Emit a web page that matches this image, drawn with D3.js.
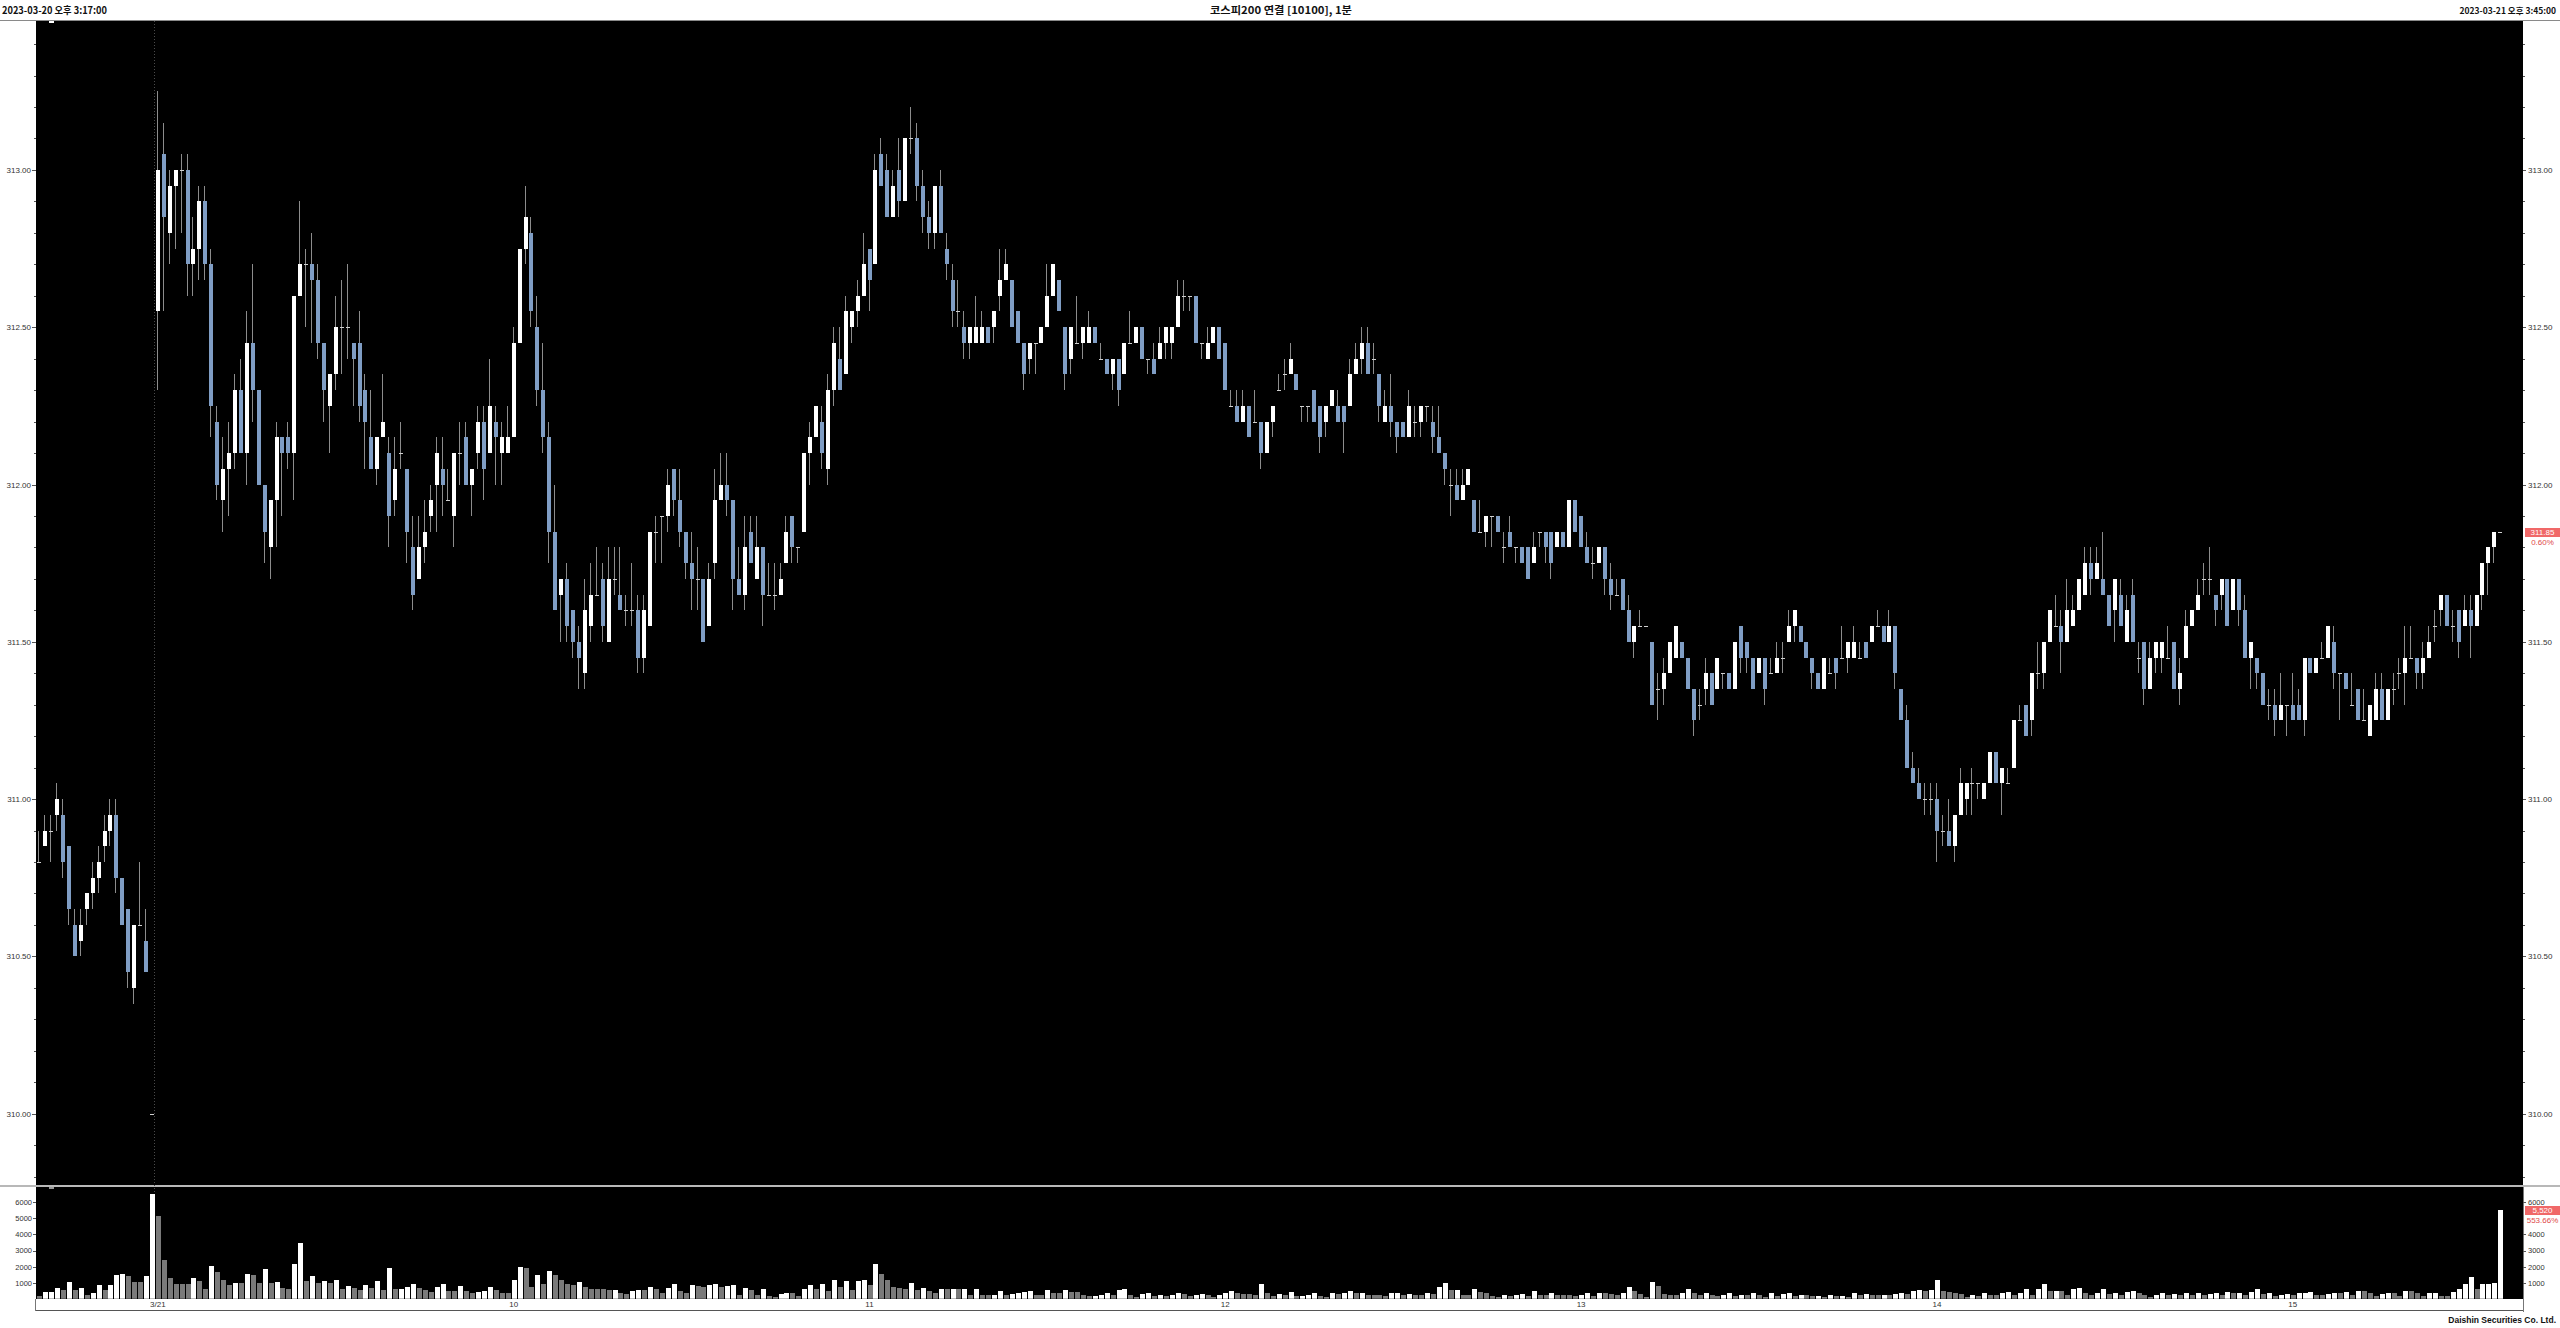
<!DOCTYPE html>
<html><head><meta charset="utf-8">
<script src="https://cdn.jsdelivr.net/npm/d3@7"></script>
<style>body{margin:0;background:#fff}svg{display:block}</style>
</head><body>
<svg id="c" width="2560" height="1328"></svg>
<script>
// ---------- categories (1-minute bars) ----------
const sessionDates = ["03-20", "03-21"];
const sessionStarts = ["15:17", "09:00"];
const sessionEnds = ["15:35", "15:34"];
const closingAuctionTime = "15:45";

const timeTickKeys = ["03-21 09:00","03-21 10:00","03-21 11:00","03-21 12:00","03-21 13:00","03-21 14:00","03-21 15:00"];
const timeTickLabels = ["3/21","10","11","12","13","14","15"];
const priceMajorTicks = [310, 310.5, 311, 311.5, 312, 312.5, 313];
const volumeTicks = [1000, 2000, 3000, 4000, 5000, 6000];

const headerLeft = "2023-03-20 오후 3:17:00";
const headerTitle = "코스피200 연결 [10100], 1분";
const headerRight = "2023-03-21 오후 3:45:00";
const footerText = "Daishin Securities Co. Ltd.";

// ---------- 2023-03-20 bars ----------
const day1Open  = [310.8,310.85,310.9,310.95,310.95,310.85,310.6,310.55,310.65,310.7,310.75,310.85,310.9,310.95,310.75,310.65,310.4,310.6,310.55,310];
const day1High  = [310.9,310.95,310.95,311.05,311,310.85,310.65,310.65,310.7,310.8,310.85,310.95,311,311,310.75,310.65,310.6,310.8,310.65,310];
const day1Low   = [310.8,310.85,310.8,310.9,310.75,310.6,310.5,310.5,310.6,310.65,310.7,310.8,310.85,310.7,310.6,310.4,310.35,310.6,310.45,310];
const day1Close = [310.8,310.9,310.9,311,310.8,310.65,310.5,310.6,310.7,310.75,310.8,310.9,310.95,310.75,310.6,310.45,310.6,310.6,310.45,310];
const day1Volume = [150,415,450,660,520,1040,540,660,250,390,830,540,830,1450,1540,1390,1040,1040,1410,6540];

// ---------- 2023-03-21 bars ----------
const day2Open = [
312.55,313.05,312.80,312.95,313.00,313.00,312.70,312.75,312.90,312.70,
312.20,311.95,312.05,312.10,312.30,312.10,312.45,312.30,312.00,311.80,
311.95,312.15,312.15,312.10,312.60,312.70,312.70,312.65,312.45,312.25,
312.35,312.50,312.50,312.45,312.45,312.30,312.15,312.05,312.15,312.10,
311.95,312.10,312.05,311.80,311.70,311.80,311.90,312.00,312.05,311.95,
311.90,312.10,312.15,312.00,312.10,312.20,312.10,312.20,312.10,312.10,
312.15,312.45,312.75,312.80,312.50,312.30,312.15,311.85,311.65,311.70,
311.60,311.50,311.40,311.55,311.65,311.70,311.50,311.70,311.65,311.60,
311.60,311.60,311.45,311.55,311.85,311.90,311.90,312.05,311.95,311.85,
311.75,311.70,311.70,311.55,311.75,311.95,312.00,311.95,311.70,311.65,
311.85,311.70,311.80,311.65,311.65,311.65,311.75,311.90,311.80,311.85,
312.10,312.15,312.20,312.05,312.30,312.40,312.35,312.50,312.55,312.60,
312.75,312.70,313.05,313.00,312.85,313.00,312.90,313.10,313.10,312.95,
312.85,312.80,312.95,312.75,312.65,312.55,312.50,312.45,312.45,312.45,
312.50,312.50,312.60,312.65,312.65,312.55,312.45,312.40,312.45,312.45,
312.50,312.60,312.65,312.50,312.40,312.45,312.45,312.45,312.50,312.40,
312.40,312.35,312.40,312.35,312.45,312.45,312.50,312.40,312.40,312.40,
312.45,312.45,312.50,312.60,312.60,312.60,312.45,312.40,312.45,312.50,
312.45,312.25,312.25,312.20,312.25,312.20,312.20,312.10,312.20,312.30,
312.35,312.35,312.35,312.25,312.25,312.30,312.25,312.20,312.25,312.25,
312.25,312.25,312.35,312.40,312.45,312.40,312.35,312.20,312.25,312.20,
312.20,312.15,312.20,312.20,312.25,312.20,312.15,312.10,312.00,312.00,
311.95,312.00,311.95,311.85,311.85,311.90,311.90,311.80,311.85,311.80,
311.80,311.80,311.75,311.85,311.85,311.85,311.80,311.85,311.80,311.95,
311.90,311.80,311.75,311.75,311.80,311.70,311.65,311.70,311.60,311.50,
311.55,311.55,311.50,311.35,311.35,311.40,311.45,311.50,311.45,311.35,
311.30,311.35,311.40,311.35,311.40,311.40,311.35,311.55,311.50,311.45,
311.40,311.45,311.40,311.40,311.45,311.50,311.55,311.55,311.50,311.45,
311.40,311.35,311.40,311.45,311.45,311.45,311.45,311.45,311.50,311.50,
311.55,311.55,311.50,311.55,311.35,311.25,311.10,311.05,311.00,311.00,
311.00,310.90,310.90,310.85,310.95,311.00,311.05,311.05,311.00,311.05,
311.15,311.05,311.05,311.10,311.25,311.30,311.25,311.40,311.40,311.50,
311.55,311.55,311.50,311.55,311.60,311.65,311.75,311.70,311.70,311.65,
311.60,311.65,311.50,311.65,311.45,311.50,311.35,311.45,311.45,311.45,
311.50,311.35,311.45,311.55,311.60,311.70,311.70,311.65,311.65,311.70,
311.60,311.70,311.60,311.45,311.45,311.40,311.30,311.30,311.25,311.30,
311.30,311.30,311.25,311.45,311.40,311.45,311.45,311.50,311.40,311.40,
311.30,311.35,311.25,311.20,311.25,311.35,311.25,311.35,311.40,311.40,
311.45,311.45,311.40,311.45,311.55,311.60,311.65,311.55,311.60,311.55,
311.60,311.55,311.65,311.75,311.80,311.85];
const day2High = [
313.25,313.15,313.00,313.00,313.05,313.05,312.85,312.95,312.95,312.75,
312.25,312.15,312.20,312.35,312.40,312.55,312.70,312.30,312.00,311.95,
312.20,312.15,312.20,312.60,312.90,312.75,312.80,312.70,312.45,312.35,
312.60,312.65,312.70,312.45,312.55,312.35,312.30,312.15,312.35,312.15,
312.15,312.20,312.05,311.90,311.90,311.95,312.00,312.15,312.15,312.05,
312.10,312.20,312.20,312.05,312.25,312.25,312.40,312.25,312.20,312.25,
312.50,312.75,312.95,312.85,312.60,312.45,312.20,312.00,311.70,311.75,
311.60,311.55,311.70,311.75,311.80,311.75,311.80,311.80,311.80,311.65,
311.75,311.65,311.65,311.85,311.90,311.90,312.05,312.05,312.05,311.85,
311.85,311.80,311.70,311.75,312.05,312.10,312.10,311.95,311.80,311.90,
311.90,311.90,311.80,311.75,311.75,311.75,311.90,311.90,311.80,312.10,
312.20,312.25,312.25,312.35,312.50,312.50,312.60,312.55,312.65,312.80,
312.75,313.05,313.10,313.05,313.00,313.10,313.10,313.20,313.15,313.00,
312.90,312.95,313.00,312.80,312.70,312.65,312.55,312.50,312.60,312.55,
312.50,312.55,312.75,312.75,312.65,312.55,312.45,312.45,312.45,312.50,
312.70,312.70,312.65,312.50,312.50,312.60,312.50,312.55,312.50,312.45,
312.40,312.40,312.40,312.45,312.55,312.50,312.50,312.40,312.45,312.50,
312.50,312.50,312.65,312.65,312.60,312.60,312.45,312.50,312.50,312.50,
312.45,312.30,312.30,312.30,312.25,312.30,312.20,312.20,312.25,312.35,
312.40,312.45,312.35,312.25,312.25,312.30,312.25,312.25,312.30,312.30,
312.25,312.40,312.45,312.50,312.50,312.45,312.35,312.30,312.35,312.20,
312.20,312.30,312.25,312.25,312.25,312.25,312.25,312.10,312.05,312.05,
312.05,312.05,311.95,311.95,311.90,311.90,311.90,311.85,311.90,311.80,
311.80,311.80,311.85,311.85,311.85,311.85,311.85,311.85,311.95,311.95,
311.90,311.85,311.80,311.80,311.80,311.75,311.70,311.70,311.65,311.55,
311.60,311.55,311.50,311.40,311.45,311.50,311.55,311.50,311.45,311.35,
311.35,311.45,311.40,311.45,311.40,311.40,311.50,311.55,311.50,311.45,
311.45,311.45,311.45,311.50,311.50,311.60,311.60,311.55,311.50,311.45,
311.40,311.45,311.45,311.45,311.55,311.50,311.55,311.50,311.50,311.55,
311.60,311.55,311.60,311.55,311.35,311.30,311.15,311.10,311.05,311.05,
311.05,310.95,311.00,310.95,311.10,311.05,311.10,311.05,311.05,311.15,
311.15,311.10,311.10,311.25,311.30,311.30,311.40,311.50,311.50,311.60,
311.65,311.60,311.70,311.65,311.70,311.80,311.80,311.80,311.85,311.65,
311.70,311.70,311.65,311.70,311.50,311.50,311.50,311.50,311.50,311.55,
311.50,311.45,311.60,311.60,311.70,311.75,311.80,311.65,311.70,311.70,
311.70,311.70,311.65,311.50,311.45,311.40,311.35,311.35,311.40,311.30,
311.40,311.35,311.45,311.45,311.45,311.50,311.55,311.55,311.40,311.40,
311.40,311.35,311.35,311.30,311.40,311.40,311.35,311.40,311.45,311.55,
311.55,311.45,311.50,311.55,311.60,311.65,311.65,311.60,311.60,311.65,
311.65,311.65,311.75,311.80,311.85,311.85];
const day2Low = [
312.30,312.55,312.70,312.75,312.80,312.60,312.60,312.65,312.65,312.15,
311.95,311.85,311.90,312.05,312.10,312.00,312.20,312.00,311.75,311.70,
311.80,311.90,312.05,311.95,312.60,312.50,312.45,312.40,312.20,312.10,
312.30,312.35,312.40,312.25,312.20,312.05,312.05,312.00,312.15,311.80,
311.90,312.05,311.75,311.60,311.70,311.75,311.85,311.85,311.90,311.95,
311.80,312.00,312.00,311.90,312.05,311.95,312.10,312.00,312.00,312.10,
312.15,312.45,312.70,312.50,312.25,312.10,311.75,311.60,311.50,311.50,
311.45,311.35,311.35,311.50,311.65,311.50,311.50,311.65,311.60,311.55,
311.55,311.40,311.40,311.55,311.75,311.75,311.85,311.90,311.80,311.70,
311.60,311.60,311.50,311.55,311.70,311.95,311.90,311.60,311.65,311.60,
311.75,311.70,311.55,311.65,311.60,311.65,311.75,311.75,311.75,311.85,
312.00,312.15,312.05,312.00,312.25,312.30,312.35,312.45,312.50,312.60,
312.55,312.70,312.95,312.85,312.85,312.85,312.90,313.05,312.90,312.80,
312.75,312.75,312.80,312.65,312.50,312.50,312.40,312.40,312.45,312.45,
312.45,312.45,312.55,312.65,312.50,312.45,312.30,312.35,312.35,312.45,
312.50,312.60,312.55,312.30,312.35,312.45,312.40,312.45,312.45,312.40,
312.35,312.30,312.25,312.35,312.45,312.45,312.40,312.35,312.35,312.40,
312.40,312.40,312.50,312.55,312.55,312.45,312.40,312.40,312.45,312.40,
312.30,312.25,312.20,312.20,312.15,312.20,312.05,312.10,312.15,312.30,
312.30,312.35,312.30,312.20,312.20,312.20,312.10,312.15,312.25,312.20,
312.10,312.25,312.35,312.35,312.35,312.35,312.20,312.20,312.15,312.10,
312.15,312.15,312.15,312.15,312.20,312.10,312.10,312.00,311.90,311.95,
311.95,312.00,311.85,311.85,311.80,311.80,311.85,311.75,311.80,311.75,
311.75,311.70,311.75,311.80,311.75,311.70,311.80,311.80,311.80,311.85,
311.80,311.75,311.70,311.75,311.65,311.60,311.65,311.60,311.50,311.45,
311.55,311.55,311.30,311.25,311.30,311.40,311.45,311.45,311.35,311.20,
311.25,311.30,311.30,311.35,311.35,311.35,311.35,311.40,311.40,311.35,
311.40,311.30,311.40,311.40,311.40,311.50,311.50,311.50,311.45,311.35,
311.35,311.35,311.40,311.35,311.45,311.40,311.45,311.45,311.45,311.50,
311.55,311.50,311.50,311.35,311.25,311.10,311.05,311.00,310.95,310.95,
310.80,310.85,310.85,310.80,310.95,310.95,310.95,311.00,311.00,311.05,
311.05,310.95,311.05,311.10,311.25,311.20,311.20,311.35,311.35,311.50,
311.55,311.40,311.50,311.55,311.60,311.65,311.65,311.70,311.65,311.55,
311.50,311.55,311.50,311.50,311.40,311.30,311.35,311.40,311.40,311.45,
311.35,311.30,311.45,311.55,311.60,311.65,311.65,311.55,311.60,311.55,
311.60,311.55,311.45,311.35,311.35,311.30,311.25,311.20,311.25,311.20,
311.25,311.25,311.20,311.40,311.40,311.45,311.45,311.35,311.25,311.35,
311.30,311.25,311.25,311.20,311.25,311.25,311.25,311.30,311.35,311.30,
311.45,311.35,311.35,311.45,311.50,311.55,311.55,311.50,311.45,311.55,
311.45,311.55,311.60,311.65,311.75,311.85];
const day2Close = [
313.00,312.85,312.95,313.00,313.00,312.70,312.75,312.90,312.70,312.25,
312.00,312.05,312.10,312.30,312.10,312.45,312.30,312.00,311.85,311.95,
312.15,312.10,312.10,312.60,312.70,312.70,312.65,312.45,312.30,312.35,
312.50,312.50,312.50,312.40,312.25,312.20,312.05,312.15,312.20,311.90,
312.05,312.10,311.85,311.65,311.80,311.85,311.95,312.10,312.00,311.95,
312.10,312.10,312.00,312.05,312.20,312.05,312.25,312.15,312.15,312.15,
312.45,312.75,312.85,312.55,312.30,312.15,311.85,311.60,311.70,311.55,
311.50,311.45,311.60,311.65,311.65,311.55,311.70,311.70,311.60,311.60,
311.60,311.45,311.60,311.85,311.85,311.90,312.00,311.95,311.85,311.75,
311.70,311.70,311.50,311.70,311.95,312.00,311.95,311.70,311.65,311.80,
311.75,311.80,311.65,311.65,311.65,311.70,311.85,311.80,311.80,312.10,
312.15,312.25,312.10,312.30,312.45,312.30,312.55,312.55,312.60,312.70,
312.65,313.00,312.95,312.85,312.95,312.90,313.10,313.10,312.95,312.85,
312.80,312.95,312.80,312.70,312.55,312.55,312.45,312.50,312.50,312.50,
312.45,312.55,312.65,312.70,312.50,312.45,312.35,312.45,312.45,312.50,
312.60,312.70,312.55,312.35,312.50,312.45,312.50,312.50,312.45,312.40,
312.35,312.40,312.30,312.45,312.45,312.50,312.40,312.40,312.35,312.45,
312.50,312.50,312.60,312.60,312.60,312.45,312.45,312.45,312.50,312.40,
312.30,312.25,312.20,312.25,312.15,312.20,312.10,312.20,312.25,312.30,
312.35,312.40,312.30,312.25,312.25,312.20,312.15,312.25,312.30,312.20,
312.20,312.35,312.40,312.45,312.35,312.40,312.25,312.25,312.20,312.15,
312.15,312.25,312.20,312.25,312.25,312.15,312.10,312.05,312.00,311.95,
312.00,312.05,311.85,311.85,311.90,311.90,311.85,311.80,311.80,311.80,
311.75,311.70,311.80,311.85,311.80,311.75,311.85,311.80,311.95,311.85,
311.80,311.75,311.75,311.80,311.70,311.65,311.65,311.60,311.50,311.55,
311.55,311.55,311.30,311.35,311.40,311.50,311.55,311.45,311.35,311.25,
311.30,311.40,311.30,311.45,311.40,311.35,311.50,311.45,311.45,311.35,
311.45,311.35,311.40,311.45,311.45,311.55,311.60,311.50,311.45,311.40,
311.35,311.45,311.40,311.40,311.45,311.50,311.50,311.45,311.45,311.55,
311.55,311.50,311.55,311.40,311.25,311.10,311.05,311.00,311.00,311.00,
310.90,310.90,310.85,310.95,311.05,311.05,311.05,311.05,311.05,311.15,
311.05,311.10,311.05,311.25,311.25,311.20,311.40,311.40,311.50,311.60,
311.55,311.50,311.60,311.60,311.70,311.75,311.70,311.75,311.65,311.55,
311.70,311.55,311.60,311.50,311.45,311.35,311.45,311.50,311.50,311.45,
311.35,311.40,311.55,311.60,311.65,311.70,311.70,311.60,311.70,311.55,
311.70,311.60,311.45,311.50,311.40,311.30,311.30,311.25,311.30,311.30,
311.25,311.25,311.45,311.40,311.45,311.45,311.55,311.40,311.40,311.35,
311.30,311.25,311.25,311.30,311.35,311.25,311.35,311.35,311.40,311.45,
311.45,311.40,311.45,311.50,311.55,311.65,311.55,311.55,311.50,311.60,
311.55,311.65,311.75,311.80,311.85,311.85];
const day2Volume = [
5120,2400,1290,910,910,910,1290,1100,620,2010,1660,1160,850,975,975,1540,1490,975,1850,1000,
1040,660,620,2140,3460,1100,1410,1000,1100,1000,1140,620,790,690,540,850,660,1080,520,1910,
600,620,750,910,660,520,415,750,950,455,455,770,500,375,415,455,750,540,390,330,
1160,1950,1890,750,1450,890,1700,1510,1200,910,850,1040,750,620,620,620,520,540,375,290,
500,540,540,730,620,350,660,950,500,330,870,790,730,830,950,730,810,830,250,660,
560,250,580,190,125,290,390,390,145,600,870,600,910,455,1160,730,1120,560,1080,1160,
870,2140,1540,1160,730,660,640,1000,560,660,480,330,580,580,640,580,600,250,600,250,
210,250,500,250,290,390,435,455,250,250,540,375,330,520,435,435,210,165,190,250,
375,250,540,580,250,125,310,390,165,250,145,250,390,290,165,210,290,210,125,250,
330,500,350,290,290,250,910,330,190,290,
210,415,145,190,250,330,165,125,330,310,
390,500,330,390,250,210,210,145,330,375,
210,290,250,210,390,290,760,970,520,540,
210,210,640,415,350,145,125,250,145,210,
290,165,500,250,210,330,250,250,210,165,
250,390,145,330,330,290,210,330,750,480,
290,120,1060,800,290,250,210,330,620,330,
250,375,210,165,250,330,145,250,210,330,
250,125,330,165,290,375,145,210,210,145,
165,125,250,145,165,125,390,250,290,210,
210,250,210,290,390,290,470,520,470,520,
1200,470,415,375,290,125,250,145,330,250,
250,330,415,250,330,580,250,640,900,470,
500,500,250,640,680,330,250,330,600,290,
330,250,415,500,330,250,125,250,330,210,
290,250,330,210,330,250,290,330,250,415,
330,375,250,450,620,290,330,145,250,290,
210,330,375,415,250,210,290,375,330,415,
250,500,470,330,170,290,375,330,165,500,
480,380,200,330,380,200,150,400,580,950,
1350,600,900,950,997,5520];

// ---------- build ----------
const toMin = s => { const p = s.split(":"); return (+p[0]) * 60 + (+p[1]); };
const hhmm = t => String(Math.floor(t / 60)).padStart(2, "0") + ":" + String(t % 60).padStart(2, "0");
const categories = [];
sessionDates.forEach((d, i) => {
  for (let t = toMin(sessionStarts[i]); t <= toMin(sessionEnds[i]); t++) categories.push(d + " " + hhmm(t));
  categories.push(d + " " + closingAuctionTime);
});
const opens = day1Open.concat(day2Open), highs = day1High.concat(day2High),
      lows = day1Low.concat(day2Low), closes = day1Close.concat(day2Close),
      volumes = day1Volume.concat(day2Volume);
const n = Math.min(categories.length, opens.length, highs.length, lows.length, closes.length, volumes.length);
const bars = d3.range(n).map(i => ({ key: categories[i], o: opens[i], h: highs[i], l: lows[i], c: closes[i], v: volumes[i], pv: i > 0 ? volumes[i-1] : Infinity }));

// ---------- layout ----------
const W = 2560, H = 1328;
const plotL = 36, plotR = 2523, priceT = 21, priceB = 1185, volT = 1187, volB = 1298.8;
const X0 = 36.34, STEP = 5.93;

const x = d3.scaleBand().domain(categories).range([X0, X0 + STEP * categories.length]);
const cx = k => x(k) + x.bandwidth() / 2;
const yP = d3.scaleLinear().domain([310, 313]).range([1113.7, 169.9]);
const yV = d3.scaleLinear().domain([0, 6000]).range([volB, 1202.3]);

const svg = d3.select("#c").attr("shape-rendering", "crispEdges");
svg.append("rect").attr("width", W).attr("height", H).attr("fill", "#fff");
svg.append("rect").attr("x", plotL).attr("y", priceT).attr("width", plotR - plotL).attr("height", priceB - priceT).attr("fill", "#000");
svg.append("rect").attr("x", plotL).attr("y", volT).attr("width", plotR - plotL).attr("height", volB - volT).attr("fill", "#000");
svg.append("line").attr("x1", 0).attr("x2", W).attr("y1", 20.5).attr("y2", 20.5).attr("stroke", "#8a8a8a");
svg.append("line").attr("x1", 0).attr("x2", W).attr("y1", 1186).attr("y2", 1186).attr("stroke", "#b8b8b8").attr("stroke-width", 1.2);
svg.append("line").attr("x1", plotL).attr("x2", plotR).attr("y1", 1310.5).attr("y2", 1310.5).attr("stroke", "#555");
svg.append("line").attr("x1", plotL - 0.5).attr("x2", plotL - 0.5).attr("y1", volB).attr("y2", 1311).attr("stroke", "#777");
svg.append("line").attr("x1", plotR + 0.5).attr("x2", plotR + 0.5).attr("y1", volT).attr("y2", 1312).attr("stroke", "#777");

const defs = svg.append("defs");
defs.append("clipPath").attr("id", "cp").append("rect").attr("x", plotL).attr("y", priceT).attr("width", plotR - plotL).attr("height", priceB - priceT);
defs.append("clipPath").attr("id", "cv").append("rect").attr("x", plotL).attr("y", volT).attr("width", plotR - plotL).attr("height", volB - volT);

// day separator
const sepX = x(timeTickKeys[0]) - 0.5;
svg.append("line").attr("x1", sepX).attr("x2", sepX).attr("y1", priceT).attr("y2", volB)
  .attr("stroke", "#4a4a4a").attr("stroke-dasharray", "1,2");

// ---------- candles ----------
const UP = "#ffffff", DOWN = "#7f9dc4", WICK = "#8c8c8c", DOJI = "#d0d0d0";
const gP = svg.append("g").attr("clip-path", "url(#cp)");
const cand = gP.selectAll("g.c").data(bars).join("g").attr("class", "c");
cand.append("rect")
  .attr("x", d => Math.round(cx(d.key)) - 1).attr("width", 1)
  .attr("y", d => Math.round(yP(d.h))).attr("height", d => Math.max(1, Math.round(yP(d.l)) - Math.round(yP(d.h))))
  .attr("fill", WICK);
cand.append("rect")
  .attr("x", d => Math.round(cx(d.key)) - 2).attr("width", 4)
  .attr("y", d => Math.round(yP(Math.max(d.o, d.c))))
  .attr("height", d => Math.max(1, Math.round(yP(Math.min(d.o, d.c))) - Math.round(yP(Math.max(d.o, d.c)))))
  .attr("fill", d => d.c > d.o ? UP : d.c < d.o ? DOWN : DOJI);

// ---------- volume ----------
const gV = svg.append("g").attr("clip-path", "url(#cv)");
gV.selectAll("rect").data(bars).join("rect")
  .attr("x", d => Math.round(cx(d.key)) - 2).attr("width", 5)
  .attr("y", d => Math.round(yV(d.v))).attr("height", d => Math.max(0, Math.round(volB) - Math.round(yV(d.v))))
  .attr("fill", d => d.v > d.pv ? "#ffffff" : "#7a7a7a");

// scroll markers at top of panels
const mk = categories[2];
svg.append("rect").attr("x", Math.round(cx(mk)) - 2.5).attr("width", 5).attr("y", priceT).attr("height", 2).attr("fill", "#fff");
svg.append("rect").attr("x", Math.round(cx(mk)) - 2.5).attr("width", 5).attr("y", volT).attr("height", 2).attr("fill", "#999");

// ---------- axes ----------
const FONT = "'Liberation Sans', Arial, sans-serif";
function styleAxis(g, fs) {
  g.select(".domain").remove();
  g.selectAll(".tick line").attr("stroke", "#555");
  g.selectAll(".tick text").attr("fill", "#333").style("font-family", FONT).style("font-size", fs + "px");
}
const minorTicks = d3.range(3098, 3135, 1).map(v => v / 10);
const fmt2 = d3.format(".2f");
// left price
svg.append("g").attr("transform", `translate(${plotL},0)`)
  .call(d3.axisLeft(yP).tickValues(minorTicks).tickSize(2).tickFormat("")).call(g => styleAxis(g, 8));
svg.append("g").attr("transform", `translate(${plotL},0)`)
  .call(d3.axisLeft(yP).tickValues(priceMajorTicks).tickSize(4).tickPadding(1).tickFormat(fmt2)).call(g => styleAxis(g, 8));
// right price
svg.append("g").attr("transform", `translate(${plotR},0)`)
  .call(d3.axisRight(yP).tickValues(minorTicks).tickSize(2).tickFormat("")).call(g => styleAxis(g, 8));
svg.append("g").attr("transform", `translate(${plotR},0)`)
  .call(d3.axisRight(yP).tickValues(priceMajorTicks).tickSize(3).tickPadding(2).tickFormat(fmt2)).call(g => styleAxis(g, 8));

// current price label
const last = bars[bars.length - 1];
const refClose = day1Close[day1Close.length - 1];
const chg = (last.c / refClose - 1) * 100;
const yc = yP(last.c);
svg.append("rect").attr("x", plotR + 2).attr("y", Math.round(yc) - 4.5).attr("width", W - plotR - 2).attr("height", 9).attr("fill", "#f06868");
svg.append("text").attr("x", (plotR + W) / 2 + 1).attr("y", yc + 3).attr("text-anchor", "middle")
  .style("font-family", FONT).style("font-size", "8px").attr("fill", "#fff").text(fmt2(last.c));
svg.append("text").attr("x", (plotR + W) / 2 + 1).attr("y", yc + 13).attr("text-anchor", "middle")
  .style("font-family", FONT).style("font-size", "8px").attr("fill", "#e04848").text(d3.format(".2f")(chg) + "%");

// volume axes
svg.append("g").attr("transform", `translate(${plotL},0)`)
  .call(d3.axisLeft(yV).tickValues(volumeTicks).tickSize(3).tickPadding(1).tickFormat(d3.format("d"))).call(g => styleAxis(g, 7.5));
const yvl = yV(last.v);
const rightVolTicks = volumeTicks.filter(v => Math.abs(yV(v) - (yvl + 10)) > 6);
svg.append("g").attr("transform", `translate(${plotR},0)`)
  .call(d3.axisRight(yV).tickValues(rightVolTicks).tickSize(3).tickPadding(2).tickFormat(d3.format("d"))).call(g => styleAxis(g, 7.5));
const prevV = bars[bars.length - 2].v;
svg.append("rect").attr("x", plotR + 2).attr("y", Math.round(yvl) - 4.5).attr("width", W - plotR - 2).attr("height", 9).attr("fill", "#f06868");
svg.append("text").attr("x", (plotR + W) / 2 + 1).attr("y", yvl + 3).attr("text-anchor", "middle")
  .style("font-family", FONT).style("font-size", "8px").attr("fill", "#fff").text(d3.format(",")(last.v));
svg.append("text").attr("x", (plotR + W) / 2 + 1).attr("y", yvl + 13).attr("text-anchor", "middle")
  .style("font-family", FONT).style("font-size", "8px").attr("fill", "#e04848").text(d3.format(".2f")(last.v / prevV * 100) + "%");

// time axis
svg.append("g").attr("transform", `translate(0,${volB})`)
  .call(d3.axisBottom(x).tickValues(timeTickKeys).tickSize(0).tickPadding(3).tickFormat((d, i) => timeTickLabels[i]))
  .call(g => styleAxis(g, 8));

// ---------- header / footer ----------
const HFONT = "'Noto Sans CJK KR', 'Noto Sans', sans-serif";
svg.append("text").attr("x", 2).attr("y", 13.5).attr("textLength", 105).attr("lengthAdjust", "spacingAndGlyphs")
  .style("font-family", HFONT).style("font-size", "10px").style("font-weight", 700).attr("fill", "#111").text(headerLeft);
svg.append("text").attr("x", 1281).attr("y", 13.5).attr("text-anchor", "middle").attr("textLength", 142).attr("lengthAdjust", "spacingAndGlyphs")
  .style("font-family", HFONT).style("font-size", "10px").style("font-weight", 700).attr("fill", "#111").text(headerTitle);
svg.append("text").attr("x", 2556).attr("y", 13.5).attr("text-anchor", "end")
  .style("font-family", HFONT).style("font-size", "8.5px").style("font-weight", 700).attr("fill", "#111").text(headerRight);
svg.append("text").attr("x", 2556).attr("y", 1323).attr("text-anchor", "end")
  .style("font-family", FONT).style("font-size", "8.5px").style("font-weight", 700).attr("fill", "#111").text(footerText);
</script>
</body></html>
